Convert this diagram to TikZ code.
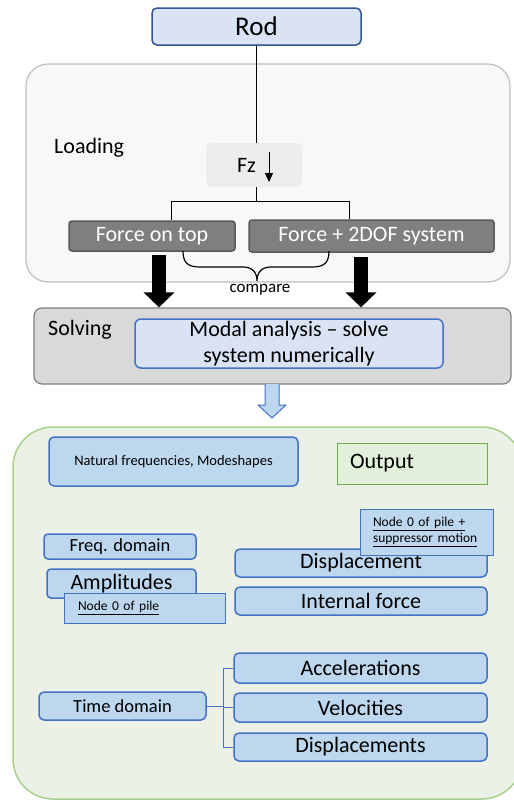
\documentclass[tikz,border=0pt]{standalone}
\usepackage{fontspec}
\setmainfont{Carlito}
\usetikzlibrary{arrows.meta}
\definecolor{lblue}{HTML}{DAE3F3}
\definecolor{mblue}{HTML}{BDD7EE}
\definecolor{bblue}{HTML}{4472C4}
\definecolor{dblue}{HTML}{2F5597}
\definecolor{lgreen}{HTML}{EBF1E6}
\definecolor{ggreen}{HTML}{A9D18E}
\definecolor{ogreen}{HTML}{E2EFDA}
\definecolor{odgreen}{HTML}{70AD47}
\definecolor{loadfill}{HTML}{F8F8F8}
\definecolor{loaddraw}{HTML}{BFBFBF}
\definecolor{fzfill}{HTML}{EDEDED}
\definecolor{forcefill}{HTML}{7F7F7F}
\definecolor{forcedraw}{HTML}{595959}
\definecolor{solvefill}{HTML}{D9D9D9}
\definecolor{solvedraw}{HTML}{808080}
\begin{document}
\begin{tikzpicture}[x=1pt,y=-1pt,
  base/.style={inner sep=0pt, align=center},
  fbig/.style={font=\fontsize{22}{26}\selectfont},
  fmid/.style={font=\fontsize{18.5}{22}\selectfont},
  fsmall/.style={font=\fontsize{13.5}{16}\selectfont},
  bluebox/.style={base, draw=bblue, line width=1.5pt, fill=mblue, rounded corners=5pt},
  notebox/.style={base, draw=bblue, line width=0.8pt, fill=mblue, fsmall, align=left},
  forcebox/.style={base, draw=forcedraw, line width=1.5pt, fill=forcefill, rounded corners=3pt, text=white, fbig},
  thinline/.style={draw=black, line width=0.9pt},
  bigarrow/.style={line width=14pt, -{Triangle[length=15pt,width=30pt]}},
  conn/.style={draw=bblue, line width=1pt}
]
\useasboundingbox (0,0) rectangle (514,801);

% containers
\node[base, draw=loaddraw, fill=loadfill, line width=1.2pt, rounded corners=22pt,
  minimum width=484pt, minimum height=218pt] (loadbox) at (268,173) {};
\node[base, anchor=west, fbig] (loadlbl) at (54,148) {Loading};

\node[base, draw=solvedraw, fill=solvefill, line width=1.2pt, rounded corners=8pt,
  minimum width=477pt, minimum height=76pt] (solve) at (272.5,346) {};
\node[base, anchor=west, fbig] (solvelbl) at (48,330) {Solving};

\node[base, draw=ggreen, fill=lgreen, line width=1.5pt, rounded corners=40pt,
  minimum width=509pt, minimum height=372pt] (outbox) at (267.5,613) {};

% top part
\node[base, draw=dblue, fill=lblue, line width=1.5pt, rounded corners=5pt,
  minimum width=209pt, minimum height=37pt, font=\fontsize{27}{30}\selectfont] (rod) at (256.5,26.5) {Rod};

\node[base, fill=fzfill, rounded corners=5pt, minimum width=96pt, minimum height=44pt, fbig]
  (fz) at (254,165) {Fz\hspace{15pt}};
\draw[line width=1pt, -{Triangle[length=9pt,width=8pt]}]
  ([xshift=15pt,yshift=13pt]fz.center) -- ([xshift=15pt,yshift=-17pt]fz.center);

\node[forcebox, minimum width=166pt, minimum height=30pt] (fot) at (152,236) {Force on top};
\node[forcebox, minimum width=245pt, minimum height=32pt] (tdof) at (371.5,236) {Force + 2DOF system};

\coordinate (jl) at (171,201);
\coordinate (jr) at (349,201);
\draw[thinline] (rod.south) -- (rod.south |- fz.north);
\draw[thinline] (fz.south -| rod.south) |- (jl) -- (jl |- fot.north);
\draw[thinline] (fz.south -| rod.south) |- (jr) -- (jr |- tdof.north);

% brace
\draw[line width=1.2pt] (183,251) .. controls (183,263) and (188,267) .. (200,267) -- (243,267)
  .. controls (252,267) and (257,272) .. (257,281)
  .. controls (257,272) and (262,267) .. (271,267) -- (312,267)
  .. controls (324,267) and (329,263) .. (329,251);
\node[base, font=\fontsize{17}{20}\selectfont] (cmp) at (260,290) {compare};

% thick arrows
\coordinate (al) at (159,255);
\coordinate (ar) at (361,257);
\draw[bigarrow] (al) -- (al |- solve.north);
\draw[bigarrow] (ar) -- (ar |- solve.north);

\node[base, draw=bblue, fill=lblue, line width=1.5pt, rounded corners=6pt,
  minimum width=308pt, minimum height=49pt, fbig] (modal) at (289,343.5)
  {Modal analysis -- solve\\system numerically};

% hollow arrow
\draw[draw=bblue, fill=mblue, line width=1pt, line join=miter]
  (265,384) -- (265,405) -- (258,405) -- (272,418) -- (286,405) -- (279,405) -- (279,384);

% output part
\node[bluebox, minimum width=249pt, minimum height=49pt, font=\fontsize{14.5}{17}\selectfont]
  (nat) at (173.5,461.5) {Natural frequencies, Modeshapes};
\node[base, draw=odgreen, fill=ogreen, line width=1pt, minimum height=41pt,
  text width=124pt, inner xsep=13pt, align=left, fbig] (outlbl) at (412,463.5) {Output};

\node[bluebox, rounded corners=4pt, minimum width=152pt, minimum height=25pt, fmid] (freq) at (120,546.5) {Freq. domain};
\node[bluebox, rounded corners=4pt, minimum width=149pt, minimum height=29pt, fbig] (ampl) at (121.5,583.5) {Amplitudes};
\node[notebox, minimum height=30pt, text width=133pt, inner xsep=14pt] (node0) at (144.5,608)
  {\underline{Node 0 of pile}};

\node[bluebox, minimum width=252pt, minimum height=28pt, fbig] (disp) at (361,563) {Displacement};
\node[notebox, minimum height=46pt, text width=107pt, inner xsep=13pt] (supp) at (426.5,532)
  {\underline{Node 0 of pile +}\\\underline{suppressor motion}};
\node[bluebox, minimum width=252pt, minimum height=28pt, fbig] (intf) at (361,601) {Internal force};

\node[bluebox, minimum width=253pt, minimum height=30pt, fbig] (acc) at (360.5,668) {Accelerations};
\node[bluebox, minimum width=253pt, minimum height=29pt, fbig] (vel) at (360.5,707.5) {Velocities};
\node[bluebox, minimum width=253pt, minimum height=28pt, fbig] (disps) at (360.5,747) {Displacements};
\node[bluebox, minimum width=167pt, minimum height=28pt, fmid] (td) at (122.5,706) {Time domain};

\draw[conn] (td.east) -- ++(17,0) |- (acc.west);
\draw[conn] (td.east) -- ++(17,0) |- (vel.west);
\draw[conn] (td.east) -- ++(17,0) |- (disps.west);
\end{tikzpicture}
\end{document}
